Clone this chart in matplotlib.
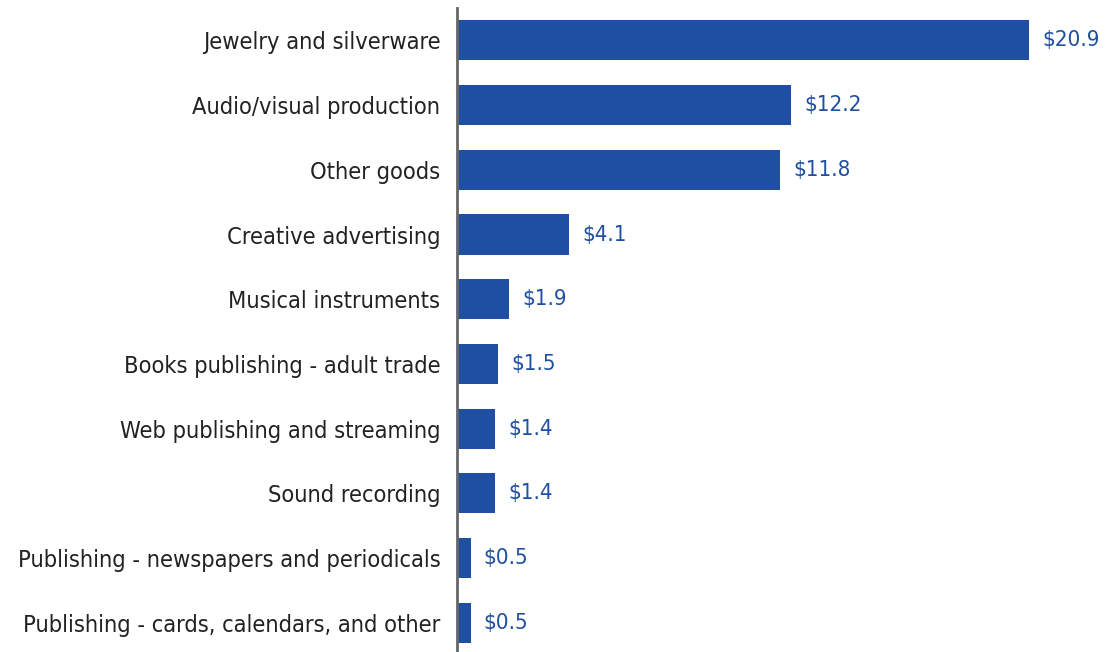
import matplotlib.pyplot as plt
import numpy as np

# kategorije in vrednosti (v milijardah $)
kategorije = [
    "Jewelry and silverware",
    "Audio/visual production",
    "Other goods",
    "Creative advertising",
    "Musical instruments",
    "Books publishing - adult trade",
    "Web publishing and streaming",
    "Sound recording",
    "Publishing - newspapers and periodicals",
    "Publishing - cards, calendars, and other",
]
vrednosti = [20.9, 12.2, 11.8, 4.1, 1.9, 1.5, 1.4, 1.4, 0.5, 0.5]

modra = "#1f4fa0"

fig = plt.figure(figsize=(11.07, 6.52), dpi=100)
ax = fig.add_axes([457 / 1107, 0, 630 / 1107, 644 / 652])

y = np.arange(len(kategorije))
ax.barh(y, vrednosti, height=0.62, color=modra)

ax.set_ylim(len(kategorije) - 0.55, -0.5)
ax.set_xlim(0, 23)

# oznake vrednosti desno od stolpcev
for i, v in enumerate(vrednosti):
    ax.text(v + 0.47, i, "$%.1f" % v, va="center", ha="left",
            fontsize=16, color=modra, fontfamily="DejaVu Sans", fontstretch="condensed")

ax.set_yticks(y)
ax.set_yticklabels(kategorije, fontsize=16.9, color="#222222",
                   fontfamily="DejaVu Sans", fontstretch="condensed")
ax.tick_params(axis="y", length=0, pad=12)
ax.set_xticks([])

for s in ["top", "right", "bottom"]:
    ax.spines[s].set_visible(False)
ax.spines["left"].set_color("#666666")
ax.spines["left"].set_linewidth(2)

fig.savefig("out.png", dpi=100)
